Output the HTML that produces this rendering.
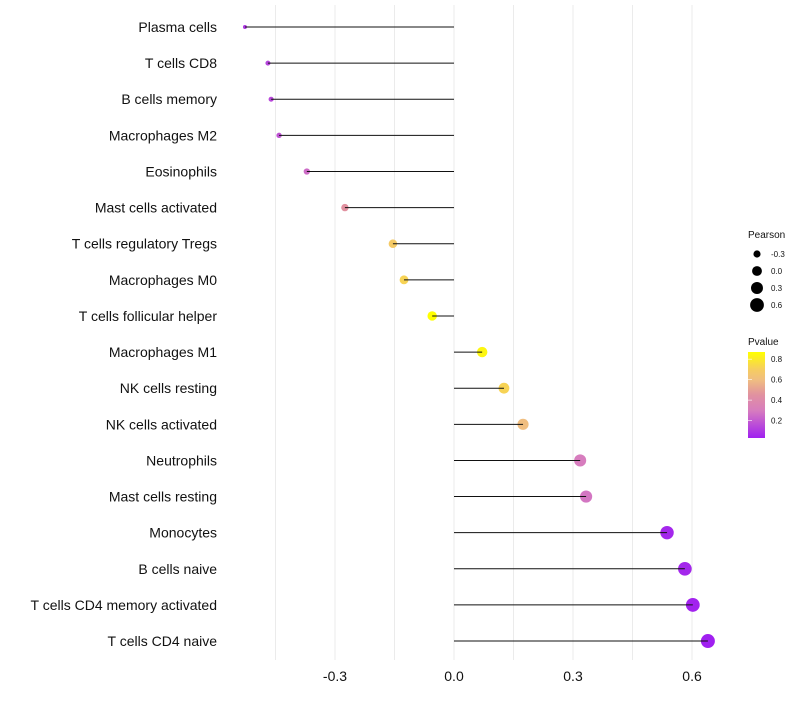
<!DOCTYPE html>
<html><head><meta charset="utf-8"><style>
body{margin:0;background:#fff;font-family:"Liberation Sans",sans-serif;}
</style></head><body>
<svg id="chart" width="800" height="700" font-family="Liberation Sans, sans-serif"></svg>
<script>
const categories=["Plasma cells","T cells CD8","B cells memory","Macrophages M2","Eosinophils","Mast cells activated","T cells regulatory  Tregs ","Macrophages M0","T cells follicular helper","Macrophages M1","NK cells resting","NK cells activated","Neutrophils","Mast cells resting","Monocytes","B cells naive","T cells CD4 memory activated","T cells CD4 naive"];
const pearson=[-0.527,-0.469,-0.461,-0.441,-0.371,-0.275,-0.154,-0.126,-0.055,0.071,0.126,0.174,0.318,0.333,0.537,0.582,0.602,0.640];
const pvalue=[0.10,0.14,0.15,0.18,0.25,0.45,0.68,0.72,0.87,0.84,0.72,0.60,0.30,0.28,0.05,0.05,0.04,0.03];
const xTicks=[-0.3,0.0,0.3,0.6];
const xMinor=[-0.45,-0.15,0.15,0.45];
const sizeLegend=[-0.3,0.0,0.3,0.6];
const colorTicks=[0.2,0.4,0.6,0.8];

const svg=document.getElementById('chart');
const NS="http://www.w3.org/2000/svg";
function mk(t,a,p){const e=document.createElementNS(NS,t);for(const k in a)e.setAttribute(k,a[k]);(p||svg).appendChild(e);return e;}
const x=v=>454+v*396.7;
const y=i=>27+i*36.12;
const r=v=>Math.sqrt(Math.max(2,24.3+38.6*v));
const stops=[[0.03,[160,32,240]],[0.3,[215,125,190]],[0.45,[225,145,160]],[0.6,[240,190,128]],[0.7,[246,205,96]],[0.87,[255,255,0]]];
function col(p){
 if(p<=stops[0][0])return `rgb(${stops[0][1]})`;
 for(let i=0;i<stops.length-1;i++){const[a,ca]=stops[i],[b,cb]=stops[i+1];
  if(p<=b){const t=(p-a)/(b-a);return `rgb(${ca.map((c,j)=>Math.round(c+(cb[j]-c)*t)).join(',')})`;}}
 return `rgb(${stops[stops.length-1][1]})`;
}
xMinor.concat(xTicks).forEach(v=>{const g=mk('line',{x1:x(v),x2:x(v),y1:5,y2:660,stroke:'#ebebeb','stroke-width':1});

});
xTicks.forEach(v=>{const t=mk('text',{x:x(v),y:681,'text-anchor':'middle','font-size':14,fill:'#111'});t.textContent=v.toFixed(1);

});
categories.forEach((c,i)=>{
 const t=mk('text',{x:217,y:y(i)+5,'text-anchor':'end','font-size':14,fill:'#111'});t.textContent=c;t.setAttribute('xml:space','preserve');
 
 
 const d=mk('circle',{cx:x(pearson[i]),cy:y(i),r:r(pearson[i]),fill:col(pvalue[i])});
 
 
 const l=mk('line',{x1:x(0),x2:x(pearson[i]),y1:y(i),y2:y(i),stroke:'#111','stroke-width':1});
 
 
});
const lt=mk('text',{x:748,y:238,'font-size':10,fill:'#111'});lt.textContent='Pearson';


sizeLegend.forEach((v,i)=>{const cy=254+i*17;
 const c=mk('circle',{cx:757,cy:cy,r:r(v),fill:'#000'});
 
 
 const t=mk('text',{x:771,y:cy+3,'font-size':8,fill:'#111'});t.textContent=v.toFixed(1);
 
 });
const ct=mk('text',{x:748,y:345,'font-size':10,fill:'#111'});ct.textContent='Pvalue';


const defs=mk('defs',{});const gr=mk('linearGradient',{id:'pg',x1:0,y1:1,x2:0,y2:0},defs);
stops.forEach(s=>mk('stop',{offset:(s[0]-0.03)/0.84,'stop-color':`rgb(${s[1]})`},gr));
const bar=mk('rect',{x:748,y:352,width:17,height:86,fill:'url(#pg)'});


const cy=p=>438-(p-0.03)/0.84*86;
colorTicks.forEach(v=>{
 const t=mk('text',{x:771,y:cy(v)+3,'font-size':8,fill:'#111'});t.textContent=v.toFixed(1);
 
 
 const tk=mk('line',{x1:748,x2:752,y1:cy(v),y2:cy(v),stroke:'#fff','stroke-width':0.6});
 
 });
</script>
</body></html>
